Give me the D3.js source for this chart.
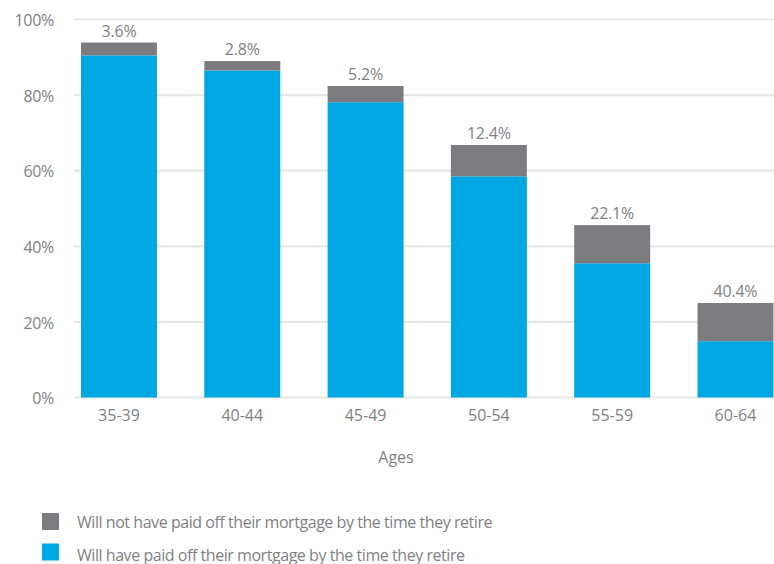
<!DOCTYPE html>
<html>
<head>
<meta charset="utf-8">
<script src="https://cdn.jsdelivr.net/npm/d3@7"></script>
<style>
  html, body { margin: 0; padding: 0; background: #fff; }
  svg { display: block; }
  text { font-family: "Open Sans", "Noto Sans", sans-serif; fill: #7f7f83; }
</style>
</head>
<body>
<svg id="chart" width="774" height="564"></svg>
<script>
// Age bands surveyed
const ages = ["35-39", "40-44", "45-49", "50-54", "55-59", "60-64"];
// Total height of each stack (% of respondents)
const totals = [93.9, 89.0, 82.4, 66.8, 45.6, 25.0];
// Share of each stack that will not have paid off the mortgage (%)
const notPaidShare = [3.6, 2.8, 5.2, 12.4, 22.1, 40.4];
const yTicks = [0, 20, 40, 60, 80, 100];
const legendLabels = [
  "Will not have paid off their mortgage by the time they retire",
  "Will have paid off their mortgage by the time they retire"
];

const BLUE = "#00a8e3";
const GREY = "#7b7b80";
const FONT = '"Open Sans", "Noto Sans", sans-serif';

const rows = ages.map((age, i) => {
  const notPaid = totals[i] * notPaidShare[i] / 100;
  return { age, paid: totals[i] - notPaid, notPaid, share: notPaidShare[i] };
});

const stack = d3.stack().keys(["paid", "notPaid"])(rows);

const svg = d3.select("#chart");

const x = d3.scaleBand()
  .domain(ages)
  .range([81, 81 + 123.3 * (6 - 0.384)])
  .paddingInner(0.384)
  .paddingOuter(0);

const y = d3.scaleLinear().domain([0, 100]).range([397.5, 19.5]);

// Horizontal gridlines
svg.append("g")
  .selectAll("line")
  .data(yTicks)
  .join("line")
  .attr("x1", 74).attr("x2", 774)
  .attr("y1", d => y(d)).attr("y2", d => y(d))
  .attr("stroke", "#e7e7e3")
  .attr("stroke-width", 2.2);

// Y axis labels
const yAxis = svg.append("g")
  .attr("transform", "translate(54,1)")
  .call(d3.axisLeft(y).tickValues(yTicks).tickFormat(d => d + "%").tickSize(0).tickPadding(0));
yAxis.select(".domain").remove();
yAxis.selectAll("text")
  .attr("font-size", 16)
  .attr("letter-spacing", -0.3)
  .attr("fill", "#7f7f83")
  .style("font-family", FONT);

// Stacked bars
svg.append("g")
  .selectAll("g")
  .data(stack)
  .join("g")
  .attr("fill", d => d.key === "paid" ? BLUE : GREY)
  .selectAll("rect")
  .data(d => d)
  .join("rect")
  .attr("x", d => x(d.data.age))
  .attr("width", x.bandwidth())
  .attr("y", d => y(d[1]))
  .attr("height", d => y(d[0]) - y(d[1]));

// Value labels above stacks
svg.append("g")
  .selectAll("text")
  .data(rows)
  .join("text")
  .attr("x", d => x(d.age) + x.bandwidth() / 2)
  .attr("y", (d, i) => y(totals[i]) - 6)
  .attr("text-anchor", "middle")
  .attr("font-size", 16)
  .attr("letter-spacing", -0.2)
  .text(d => d.share.toFixed(1) + "%");

// X axis labels
const xAxis = svg.append("g")
  .attr("transform", "translate(0,410)")
  .call(d3.axisBottom(x).tickSize(0).tickPadding(0));
xAxis.select(".domain").remove();
xAxis.selectAll("text")
  .attr("font-size", 16)
  .attr("fill", "#7f7f83")
  .style("font-family", FONT);

// Axis title
svg.append("text")
  .attr("x", 396).attr("y", 463)
  .attr("text-anchor", "middle")
  .attr("font-size", 16)
  .text("Ages");

// Legend
const legend = svg.append("g")
  .selectAll("g")
  .data(legendLabels)
  .join("g")
  .attr("transform", (d, i) => `translate(42,${513 + i * 30.5})`);
legend.append("rect")
  .attr("width", 17).attr("height", 17)
  .attr("fill", (d, i) => i === 0 ? GREY : BLUE);
legend.append("text")
  .attr("x", 35).attr("y", (d, i) => 15 + i * 2)
  .attr("font-size", 16)
  .attr("letter-spacing", -0.45)
  .text(d => d);
</script>
</body>
</html>
